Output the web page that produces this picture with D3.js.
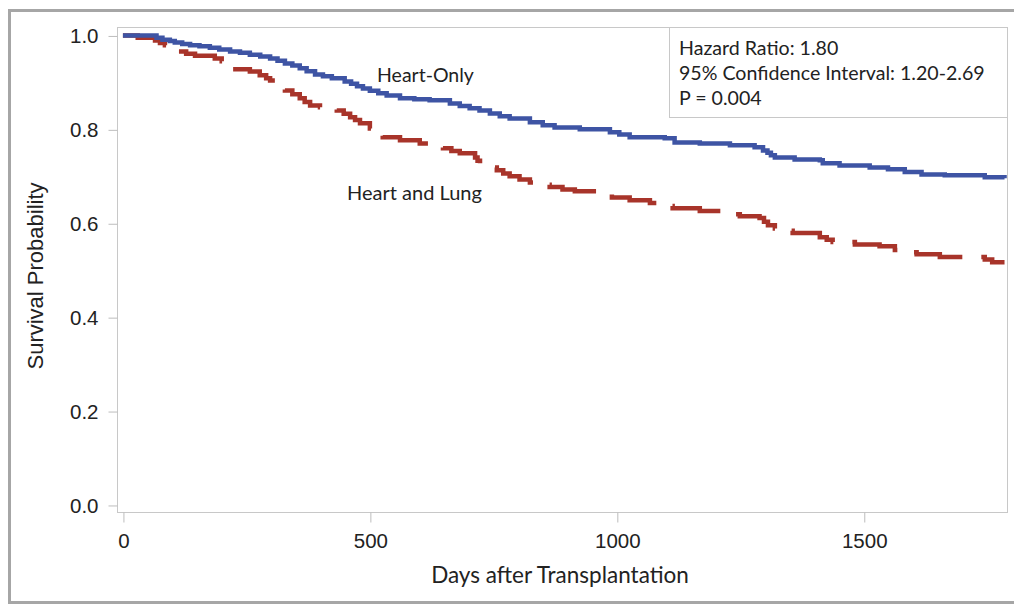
<!DOCTYPE html>
<html>
<head>
<meta charset="utf-8">
<script src="https://cdn.jsdelivr.net/npm/d3@7/dist/d3.min.js"></script>
<style>
  body { margin: 0; background: #fff; }
  svg { display: block; }
</style>
</head>
<body>
<script>
// survival curves: [days, survival]
var heartOnly = [
  [0, 1.000], [68, 0.995], [80, 0.991], [95, 0.988], [105, 0.985], [120, 0.982],
  [136, 0.979], [155, 0.977], [176, 0.974], [195, 0.970], [217, 0.966], [237, 0.963],
  [257, 0.959], [278, 0.955], [298, 0.951], [313, 0.946], [328, 0.940], [343, 0.936],
  [358, 0.930], [372, 0.924], [389, 0.917], [405, 0.913], [423, 0.909], [449, 0.902],
  [462, 0.897], [474, 0.892], [486, 0.887], [500, 0.882], [517, 0.877], [534, 0.872],
  [561, 0.866], [590, 0.864], [621, 0.862], [662, 0.855], [682, 0.850], [702, 0.845],
  [722, 0.840], [743, 0.834], [763, 0.828], [783, 0.823], [824, 0.815], [850, 0.809],
  [874, 0.804], [925, 0.800], [986, 0.794], [1005, 0.789], [1026, 0.783], [1097, 0.781],
  [1117, 0.772], [1168, 0.770], [1229, 0.766], [1279, 0.762], [1296, 0.755], [1305, 0.750],
  [1312, 0.745], [1320, 0.740], [1360, 0.736], [1411, 0.734], [1417, 0.728], [1451, 0.723],
  [1512, 0.719], [1549, 0.715], [1583, 0.709], [1617, 0.704], [1664, 0.702], [1745, 0.698],
  [1785, 0.696]
];

var heartLung = [
  [0, 1.000], [30, 0.995], [65, 0.989], [75, 0.984], [85, 0.979], [98, 0.972],
  [111, 0.966], [128, 0.961], [146, 0.957], [186, 0.951], [200, 0.945], [212, 0.936],
  [223, 0.928], [257, 0.923], [277, 0.915], [290, 0.909], [298, 0.904], [308, 0.898],
  [318, 0.891], [328, 0.883], [343, 0.875], [358, 0.866], [368, 0.858], [379, 0.851],
  [399, 0.847], [433, 0.840], [447, 0.833], [460, 0.826], [470, 0.820], [480, 0.813],
  [500, 0.802], [513, 0.792], [526, 0.783], [561, 0.777], [601, 0.770], [625, 0.765],
  [648, 0.760], [665, 0.754], [682, 0.749], [713, 0.740], [718, 0.733], [723, 0.726],
  [740, 0.719], [757, 0.713], [770, 0.706], [783, 0.700], [803, 0.693], [824, 0.687],
  [844, 0.682], [864, 0.677], [890, 0.672], [915, 0.668], [960, 0.662], [990, 0.655],
  [1026, 0.649], [1067, 0.643], [1090, 0.637], [1113, 0.632], [1168, 0.626], [1213, 0.619],
  [1249, 0.615], [1289, 0.611], [1298, 0.603], [1306, 0.596], [1320, 0.589], [1338, 0.584],
  [1356, 0.579], [1411, 0.570], [1425, 0.565], [1437, 0.560], [1482, 0.555], [1532, 0.551],
  [1563, 0.543], [1585, 0.538], [1607, 0.534], [1654, 0.528], [1745, 0.523], [1760, 0.517],
  [1785, 0.517]
];

var xTicks = [0, 500, 1000, 1500];
var yTicks = [0, 0.2, 0.4, 0.6, 0.8, 1.0];
var statsLines = ['Hazard Ratio: 1.80', '95% Confidence Interval: 1.20-2.69', 'P = 0.004'];

var W = 1014, H = 605;
var plot = { left: 117, right: 1007, top: 27, bottom: 512 };

var svg = d3.select('body').append('svg')
  .attr('width', W).attr('height', H);

// outer frame
svg.append('rect')
  .attr('x', 9.5).attr('y', 10.5)
  .attr('width', 1020).attr('height', 592)
  .style('fill', '#fff').style('stroke', '#a6a6a6').style('stroke-width', 3);

var x = d3.scaleLinear().domain([-12, 1790]).range([plot.left, plot.right]);
var y = d3.scaleLinear().domain([-0.015, 1.018]).range([plot.bottom, plot.top]);

// plot frame
svg.append('rect')
  .attr('x', plot.left + 0.5).attr('y', plot.top + 0.5)
  .attr('width', plot.right - plot.left).attr('height', plot.bottom - plot.top)
  .style('fill', 'none').style('stroke', '#c8c8c8').style('stroke-width', 1);

var xAxis = svg.append('g')
  .attr('transform', 'translate(0.5,' + (plot.bottom + 0.5) + ')')
  .call(d3.axisBottom(x).tickValues(xTicks).tickSize(10).tickPadding(11).tickFormat(d3.format('d')));

var yAxis = svg.append('g')
  .attr('transform', 'translate(' + (plot.left + 0.5) + ',0.5)')
  .call(d3.axisLeft(y).tickValues(yTicks).tickSize(9).tickPadding(10).tickFormat(d3.format('.1f')));

svg.selectAll('.domain').remove();
svg.selectAll('.tick line').style('stroke', '#bdbdbd');
svg.selectAll('.tick text')
  .style('font-family', '"Liberation Sans", Arial, sans-serif')
  .style('font-size', '20.5px')
  .style('fill', '#222');

// stats box
svg.append('rect')
  .attr('x', 669.5).attr('y', plot.top + 0.5)
  .attr('width', plot.right - 669).attr('height', 90)
  .style('fill', '#fff').style('stroke', '#c8c8c8');

svg.append('g').selectAll('text')
  .data(statsLines)
  .enter().append('text')
  .attr('x', 679)
  .attr('y', function (d, i) { return 55 + i * 25; })
  .text(function (d) { return d; })
  .style('font-family', 'Lato, sans-serif')
  .style('font-size', '19.6px')
  .style('fill', '#222');

// survival step lines
var line = d3.line()
  .curve(d3.curveStepAfter)
  .x(function (d) { return x(d[0]); })
  .y(function (d) { return y(d[1]); });

svg.append('path').datum(heartLung)
  .attr('d', line)
  .style('fill', 'none')
  .style('stroke', '#a8342a')
  .style('stroke-width', 4.5)
  .style('stroke-dasharray', '53,19');

svg.append('path').datum(heartOnly)
  .attr('d', line)
  .style('fill', 'none')
  .style('stroke', '#3e54a4')
  .style('stroke-width', 4.5);

// curve labels
svg.append('text')
  .attr('x', 377).attr('y', 82)
  .text('Heart-Only')
  .style('font-family', 'Lato, sans-serif').style('font-size', '19.5px').style('fill', '#222');

svg.append('text')
  .attr('x', 347).attr('y', 200)
  .text('Heart and Lung')
  .style('font-family', 'Lato, sans-serif').style('font-size', '20px').style('fill', '#222');

// axis titles
svg.append('text')
  .attr('x', 560).attr('y', 583)
  .attr('text-anchor', 'middle')
  .text('Days after Transplantation')
  .style('font-family', 'Lato, sans-serif').style('font-size', '22.5px').style('fill', '#222');

svg.append('text')
  .attr('transform', 'translate(42.5,276) rotate(-90)')
  .attr('text-anchor', 'middle')
  .text('Survival Probability')
  .style('font-family', '"Liberation Sans", Arial, sans-serif').style('font-size', '22px').style('fill', '#222');
</script>
</body>
</html>
